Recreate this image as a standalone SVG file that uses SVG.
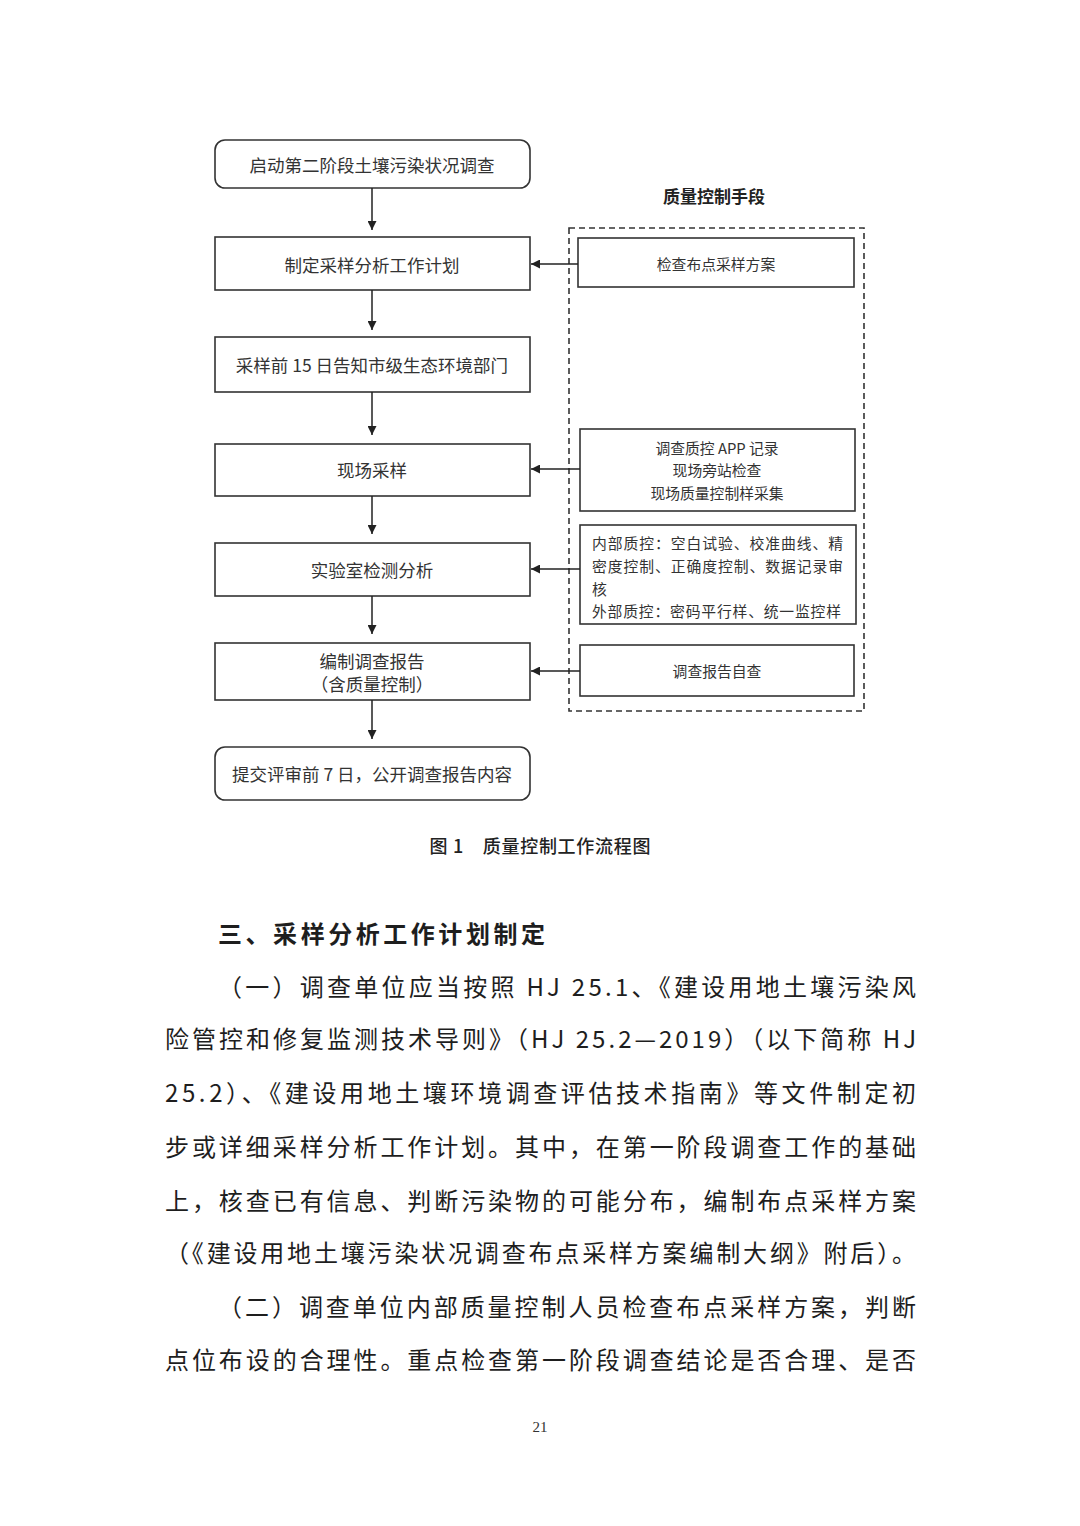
<svg xmlns="http://www.w3.org/2000/svg" width="1080" height="1526" viewBox="0 0 1080 1526">
<defs>
<marker id="ah" viewBox="0 0 10 10" refX="10" refY="5" markerWidth="9" markerHeight="9" markerUnits="userSpaceOnUse" orient="auto">
<path d="M0,0 L10,5 L0,10 z" fill="#222"/>
</marker>
<style>
.box{fill:#fff;stroke:#333;stroke-width:1.6}
.dash{fill:none;stroke:#333;stroke-width:1.6;stroke-dasharray:6 4}
.t{font-family:"Noto Sans CJK SC","Liberation Serif",sans-serif;font-size:17.5px;fill:#333;text-anchor:middle;dominant-baseline:central}
.s{font-family:"Noto Sans CJK SC","Liberation Serif",sans-serif;font-size:14.8px;fill:#333;dominant-baseline:central}
.sc{text-anchor:middle}
.h{font-family:"Noto Sans CJK SC",sans-serif;font-size:17px;font-weight:bold;fill:#222;text-anchor:middle;dominant-baseline:central}
.cap{font-family:"Noto Sans CJK SC",sans-serif;font-size:18px;font-weight:500;fill:#222;text-anchor:middle;dominant-baseline:central}
.body{font-family:"Noto Sans CJK SC","Liberation Serif",sans-serif;font-size:24px;fill:#1e1e1e;dominant-baseline:central}
.ln{fill:none;stroke:#222;stroke-width:1.5}
</style>
</defs>
<rect width="1080" height="1526" fill="#fff"/>

<g id="qc-frame">
<rect class="dash" x="569" y="228" width="295" height="483"/>
<text class="h" x="714" y="195">质量控制手段</text>
</g>

<g id="n1"><rect class="box" x="215" y="140" width="315" height="48" rx="10"/><text class="t" x="372" y="164">启动第二阶段土壤污染状况调查</text></g>
<g id="n2"><rect class="box" x="215" y="237" width="315" height="53"/><text class="t" x="372" y="264">制定采样分析工作计划</text></g>
<g id="n3"><rect class="box" x="215" y="337" width="315" height="55"/><text class="t" x="372" y="364">采样前 15 日告知市级生态环境部门</text></g>
<g id="n4"><rect class="box" x="215" y="444" width="315" height="52"/><text class="t" x="372" y="469">现场采样</text></g>
<g id="n5"><rect class="box" x="215" y="543" width="315" height="53"/><text class="t" x="372" y="569">实验室检测分析</text></g>
<g id="n6"><rect class="box" x="215" y="643" width="315" height="57"/><text class="t" x="372" y="660">编制调查报告</text><text class="t" x="372" y="683">（含质量控制）</text></g>
<g id="n7"><rect class="box" x="215" y="747" width="315" height="53" rx="10"/><text class="t" x="372" y="773">提交评审前 7 日，公开调查报告内容</text></g>

<g id="q1"><rect class="box" x="578" y="238" width="276" height="49"/><text class="s sc" x="716" y="263">检查布点采样方案</text></g>
<g id="q2"><rect class="box" x="580" y="429" width="275" height="82"/>
<text class="s sc" x="717" y="447">调查质控 APP 记录</text>
<text class="s sc" x="717" y="469">现场旁站检查</text>
<text class="s sc" x="717" y="492">现场质量控制样采集</text></g>
<g id="q3"><rect class="box" x="580" y="525" width="276" height="99"/>
<text class="s" x="592" y="542" textLength="251" lengthAdjust="spacing">内部质控：空白试验、校准曲线、精</text>
<text class="s" x="592" y="565" textLength="251" lengthAdjust="spacing">密度控制、正确度控制、数据记录审</text>
<text class="s" x="592" y="588">核</text>
<text class="s" x="592" y="610" textLength="249" lengthAdjust="spacing">外部质控：密码平行样、统一监控样</text></g>
<g id="q4"><rect class="box" x="580" y="645" width="274" height="51"/><text class="s sc" x="717" y="670">调查报告自查</text></g>

<g id="connectors">
<line class="ln" x1="372" y1="188" x2="372" y2="230" marker-end="url(#ah)"/>
<line class="ln" x1="372" y1="290" x2="372" y2="330" marker-end="url(#ah)"/>
<line class="ln" x1="372" y1="392" x2="372" y2="435" marker-end="url(#ah)"/>
<line class="ln" x1="372" y1="496" x2="372" y2="534" marker-end="url(#ah)"/>
<line class="ln" x1="372" y1="596" x2="372" y2="634" marker-end="url(#ah)"/>
<line class="ln" x1="372" y1="700" x2="372" y2="739" marker-end="url(#ah)"/>
<line class="ln" x1="578" y1="264" x2="531" y2="264" marker-end="url(#ah)"/>
<line class="ln" x1="580" y1="469" x2="531" y2="469" marker-end="url(#ah)"/>
<line class="ln" x1="580" y1="569" x2="531" y2="569" marker-end="url(#ah)"/>
<line class="ln" x1="580" y1="671" x2="531" y2="671" marker-end="url(#ah)"/>
</g>

<text class="cap" x="540" y="845" textLength="221" lengthAdjust="spacing">图 1　质量控制工作流程图</text>

<g id="body">
<text class="body" x="218" y="932" font-weight="bold" font-size="26" textLength="327" lengthAdjust="spacing">三、采样分析工作计划制定</text>
<text class="body" x="218" y="985" textLength="698" lengthAdjust="spacing">（一）调查单位应当按照 HJ 25.1、《建设用地土壤污染风</text>
<text class="body" x="165" y="1037" textLength="751" lengthAdjust="spacing">险管控和修复监测技术导则》（HJ 25.2—2019）（以下简称 HJ</text>
<text class="body" x="165" y="1091" textLength="751" lengthAdjust="spacing">25.2）、《建设用地土壤环境调查评估技术指南》等文件制定初</text>
<text class="body" x="165" y="1145" textLength="751" lengthAdjust="spacing">步或详细采样分析工作计划。其中，在第一阶段调查工作的基础</text>
<text class="body" x="165" y="1199" textLength="751" lengthAdjust="spacing">上，核查已有信息、判断污染物的可能分布，编制布点采样方案</text>
<text class="body" x="165" y="1251" textLength="751" lengthAdjust="spacing">（《建设用地土壤污染状况调查布点采样方案编制大纲》附后）。</text>
<text class="body" x="218" y="1305" textLength="698" lengthAdjust="spacing">（二）调查单位内部质量控制人员检查布点采样方案，判断</text>
<text class="body" x="165" y="1358" textLength="751" lengthAdjust="spacing">点位布设的合理性。重点检查第一阶段调查结论是否合理、是否</text>
</g>
<text x="540" y="1427" font-family="Liberation Serif, serif" font-size="15" fill="#333" text-anchor="middle" dominant-baseline="central">21</text>
</svg>
